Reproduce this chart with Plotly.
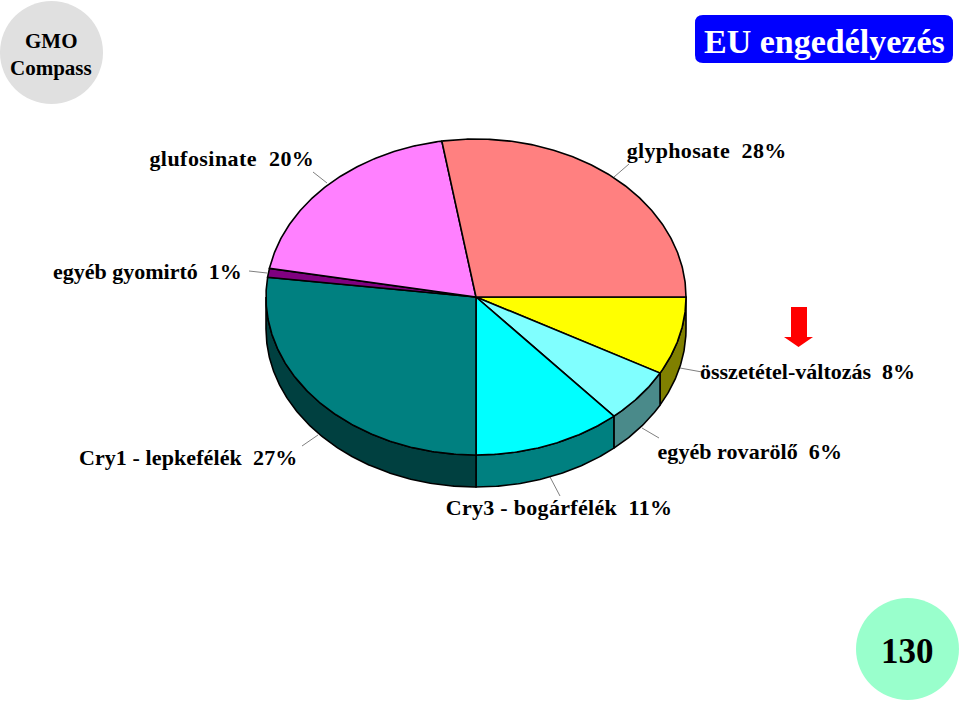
import json
import numpy as np
import plotly.graph_objects as go

# Data, clockwise from 3 o'clock
categories = ["összetétel-változás", "egyéb rovarölő", "Cry3 - bogárfélék", "Cry1 - lepkefélék",
              "egyéb gyomirtó", "glufosinate", "glyphosate"]
values = [8.0, 5.6, 11.4, 27.0, 0.9, 19.5, 27.6]
shown_pct = [8, 6, 11, 27, 1, 20, 28]
top_colors = ["#ffff00", "#80ffff", "#00ffff", "#008080", "#800080", "#ff80ff", "#ff8080"]
side_colors = ["#808000", "#4a8a8a", "#008080", "#004040", "#400040", "#804080", "#804040"]

# Layout in page pixels
CX, CY, RX, RY, DEPTH = 476, 297, 210, 158, 32
label_pos = [(700, 371), (657.5, 451), (448.5, 507), (80, 457), (53, 271), (152.5, 158), (629, 150)]
label_spacing = [0, 0.05, 0.3, 0.1, 0, 0.45, 0.3]
leaders = [((680, 368), (702, 372)), ((642, 428), (659, 438)), ((550, 477), (560, 496)),
           ((318, 435), (302, 446)), ((249, 271), (267, 273)), ((313, 172), (327, 183)),
           ((629, 164), (614, 177))]
LINE = dict(color="#000000", width=1.6)

fig = go.Figure()


def arc(a0, a1, dy=0.0):
    t = np.radians(np.linspace(a0, a1, max(int(abs(a1 - a0) * 2), 2)))
    return CX + RX * np.cos(t), CY + RY * np.sin(t) + dy


def add_poly(x, y, color):
    fig.add_trace(go.Scatter(x=x, y=y, mode="lines", fill="toself", fillcolor=color,
                             line=LINE, hoverinfo="skip", showlegend=False))


edges = np.concatenate([[0], np.cumsum(values)]) / sum(values) * 360

# Leader lines
for (p, q) in leaders:
    fig.add_trace(go.Scatter(x=[p[0], q[0]], y=[p[1], q[1]], mode="lines",
                             line=dict(color="#808080", width=1), hoverinfo="skip", showlegend=False))

# Side walls (only the front half shows)
for a0, a1, c in zip(edges[:-1], edges[1:], side_colors):
    s, e = max(a0, 0), min(a1, 180)
    if s >= e:
        continue
    tx, ty = arc(s, e)
    bx, by = arc(e, s, DEPTH)
    add_poly(np.r_[tx, bx, tx[0]], np.r_[ty, by, ty[0]], c)

# Top slices
for a0, a1, c in zip(edges[:-1], edges[1:], top_colors):
    x, y = arc(a0, a1)
    add_poly(np.r_[CX, x, CX], np.r_[CY, y, CY], c)

# Labels
for name, pct, (lx, ly) in zip(categories, shown_pct, label_pos):
    fig.add_annotation(x=lx, y=ly, text=f"<b>{name}  {pct}%</b>", showarrow=False, xanchor="left",
                       yanchor="middle", xref="x", yref="y",
                       font=dict(family="Liberation Serif", size=22, color="#000000"),
                       borderpad=0, borderwidth=0)


def txt(x, y, s, size, color="#000000"):
    fig.add_annotation(x=x, y=y, text=f"<b>{s}</b>", showarrow=False, xanchor="center", yanchor="middle",
                       font=dict(family="Liberation Serif", size=size, color=color))


shapes = [
    dict(type="circle", x0=0, x1=103, y0=1, y1=104, fillcolor="#e0e0e0", line_width=0),
    dict(type="circle", x0=856, x1=959, y0=598, y1=700, fillcolor="#99ffcc", line_width=0),
    dict(type="path", path="M703 15 L945 15 Q953 15 953 23 L953 55 Q953 63 945 63 L703 63 Q695 63 695 55 L695 23 Q695 15 703 15 Z",
         fillcolor="#0000ff", line_width=0),
    dict(type="path", path="M791 307 L807 307 L807 337 L813 337 L798.5 347 L784 337 L791 337 Z",
         fillcolor="#ff0000", line_width=0),
]
txt(51, 41, "GMO", 21)
txt(51, 68, "Compass", 21)
txt(824, 41, "EU engedélyezés", 34, "#ffffff")
txt(907, 651, "130", 35)

fig.update_layout(
    width=960, height=702, margin=dict(l=0, r=0, t=0, b=0),
    paper_bgcolor="#ffffff", plot_bgcolor="#ffffff", shapes=shapes, showlegend=False,
    xaxis=dict(range=[0, 960], visible=False, fixedrange=True),
    yaxis=dict(range=[702, 0], visible=False, fixedrange=True),
)
post = ("document.body.style.margin='0';document.documentElement.style.overflow='hidden';"
        "var sp=" + json.dumps(label_spacing) + ";"
        "document.querySelectorAll('.annotation-text').forEach(function(t,i){"
        "if(i<sp.length){t.style.letterSpacing=sp[i]+'px';}});")
fig.write_html("out.html", config=dict(displayModeBar=False), post_script=post)
